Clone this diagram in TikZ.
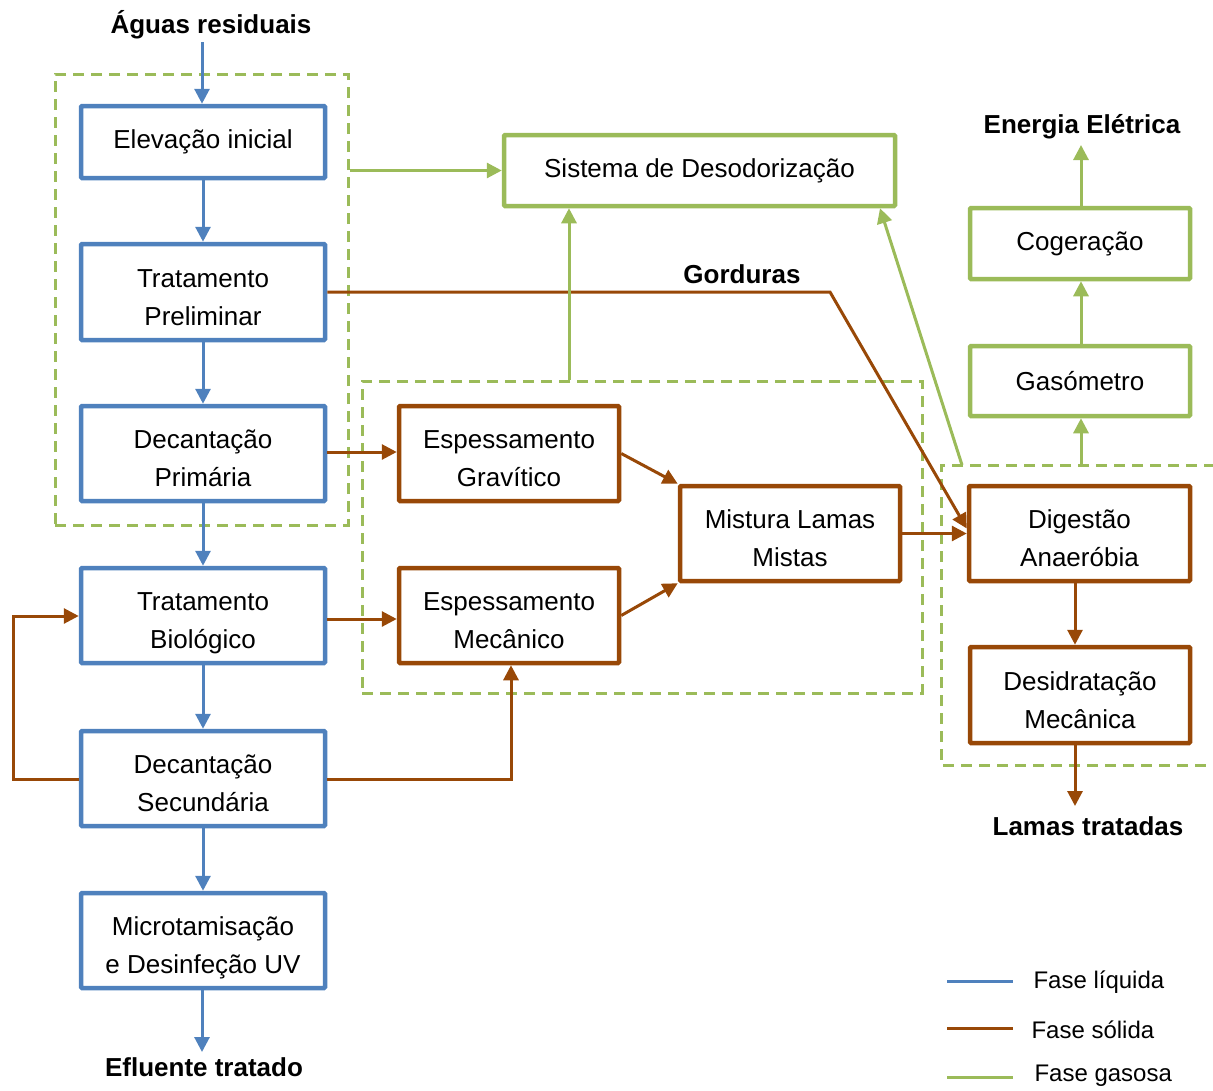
\documentclass[tikz,border=0pt]{standalone}
\usepackage{fontspec}
\setmainfont{Liberation Sans}
\usetikzlibrary{arrows.meta,calc}
\definecolor{cblue}{HTML}{4F81BD}
\definecolor{cbrown}{HTML}{984807}
\definecolor{cgreen}{HTML}{9BBB59}
\newcommand\twol[2]{\rule{0pt}{34pt}#1\\#2\rule[-6pt]{0pt}{6pt}}
\tikzset{
  boxbase/.style={draw, line width=4.5pt, fill=white, align=center, inner sep=2pt,
     font=\fontsize{26}{38}\selectfont, rounded corners=1pt},
  liq/.style={boxbase, draw=cblue, minimum width=244pt},
  sol/.style={boxbase, draw=cbrown, minimum width=220pt},
  gas/.style={boxbase, draw=cgreen},
  dashbox/.style={draw=cgreen, line width=3pt, dash pattern=on 11pt off 7pt},
  tip/.style={-{Triangle[length=15pt,width=15pt]}},
  lq/.style={tip, draw=cblue, line width=3pt},
  sd/.style={tip, draw=cbrown, line width=3pt},
  gs/.style={tip, draw=cgreen, line width=3pt},
  lbl/.style={font=\fontsize{26}{30}\selectfont\bfseries},
  leg/.style={font=\fontsize{24}{28}\selectfont, anchor=west}
}
\begin{document}
\begin{tikzpicture}[x=1pt,y=-1pt]
\useasboundingbox (0,0) rectangle (1213,1090);
% dashed group boxes
\node[dashbox, minimum width=293pt, minimum height=451pt, inner sep=0pt] (D1) at (201.5,299.5) {};
\node[dashbox, minimum width=560pt, minimum height=312pt, inner sep=0pt] (D2) at (642,537) {};
\coordinate (D3tl) at (941,465);
\draw[dashbox] (1215,465) -- (D3tl) -- (941,765) -- (1215,765);

% liquid phase
\node[liq, minimum height=72pt] (E)  at (203,142) {Elevação inicial};
\node[liq, minimum height=96pt] (TP) at (203,292) {\twol{Tratamento}{Preliminar}};
\node[liq, minimum height=95pt] (DP) at (203,453.5) {\twol{Decantação}{Primária}};
\node[liq, minimum height=95pt] (TB) at (203,615.5) {\twol{Tratamento}{Biológico}};
\node[liq, minimum height=95pt] (DS) at (203,778.5) {\twol{Decantação}{Secundária}};
\node[liq, minimum height=95pt] (MD) at (203,940.5) {\twol{Microtamisação}{e Desinfeção UV}};

% solid phase
\node[sol, minimum height=95pt] (EG)  at (509,453.5) {\twol{Espessamento}{Gravítico}};
\node[sol, minimum height=95pt] (EM)  at (509,615.5) {\twol{Espessamento}{Mecânico}};
\node[sol, minimum height=95pt] (MLM) at (790,533.5) {\twol{Mistura Lamas}{Mistas}};
\node[sol, minimum height=95pt, minimum width=221pt] (DA) at (1079.5,533.5) {\twol{Digestão}{Anaeróbia}};
\node[sol, minimum height=96pt] (DM) at (1080,695) {\twol{Desidratação}{Mecânica}};

% gas phase
\node[gas, minimum width=391pt, minimum height=71pt] (SD) at (699.5,170.5) {Sistema de Desodorização};
\node[gas, minimum width=220pt, minimum height=71pt] (CG) at (1080,243.5) {Cogeração};
\node[gas, minimum width=220pt, minimum height=70pt] (GA) at (1080,381) {Gasómetro};

% labels
\node[lbl] (lin)  at (211,25) {Águas residuais};
\node[lbl] (lout) at (204,1067) {Efluente tratado};
\node[lbl] (lgor) at (742,274) {Gorduras};
\node[lbl] (lene) at (1082,127) {Energia Elétrica};
\node[lbl] (llam) at (1088,826) {Lamas tratadas};

\coordinate (cin)  at (202,42);
\coordinate (cout) at (202,1052);
\coordinate (cene) at (1080,145);
\coordinate (clam) at (1075,806);

% liquid connectors
\draw[lq] (cin) -- (E.north -| cin);
\draw[lq] (E) -- (TP);
\draw[lq] (TP) -- (DP);
\draw[lq] (DP) -- (TB);
\draw[lq] (TB) -- (DS);
\draw[lq] (DS) -- (MD);
\draw[lq] (MD.south -| cout) -- (cout);

% solid connectors
\coordinate (gk) at (830,292);
\draw[sd] (TP.east |- gk) -- (gk) -- ($(DA.west)+(0,-5)$);
\draw[sd] (DP.east |- 0,452) -- (EG.west |- 0,452);
\draw[sd] (TB.east |- 0,619) -- (EM.west |- 0,619);
\draw[sd] (EG.east) -- (MLM.north west);
\draw[sd] (EM.east) -- (MLM.south west);
\draw[sd] (MLM.east) -- (DA.west);
\draw[sd] (DA.south -| clam) -- (DM.north -| clam);
\draw[sd] (DM.south -| clam) -- (clam);
\coordinate (rl) at (13,779);
\draw[sd] (DS.west |- rl) -- (rl) -- (13,616) -- (TB.west |- 0,616);
\coordinate (rr) at (511,779);
\draw[sd] (DS.east |- rr) -- (rr) -- (EM.south -| rr);

% gas connectors
\draw[gs] (D1.east |- SD.west) -- (SD.west);
\coordinate (gv) at (569,381);
\draw[gs] (D2.north -| gv) -- (SD.south -| gv);
\coordinate (gd) at (962,465);
\draw[gs] (gd) -- (SD.south -| 880,0);
\coordinate (gg) at (1081,465);
\draw[gs] (gg) -- (GA.south -| gg);
\draw[gs] (GA.north -| gg) -- (CG.south -| gg);
\draw[gs] (CG.north -| gg) -- (cene -| gg);

% legend
\coordinate (la1) at (947,981);  \coordinate (lb1) at (1013,981);
\coordinate (la2) at (947,1028); \coordinate (lb2) at (1013,1028);
\coordinate (la3) at (947,1077); \coordinate (lb3) at (1013,1077);
\draw[cblue, line width=3pt] (la1) -- (lb1);
\draw[cbrown, line width=3pt] (la2) -- (lb2);
\draw[cgreen, line width=3pt] (la3) -- (lb3);
\node[leg] (t1) at (1030,982) {Fase líquida};
\node[leg] (t2) at (1028,1030) {Fase sólida};
\node[leg] (t3) at (1031,1076) {Fase gasosa};
\end{tikzpicture}
\end{document}
